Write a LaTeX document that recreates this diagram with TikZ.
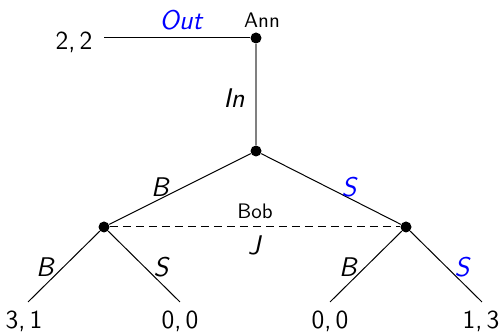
\documentclass[tikz,border=0pt]{standalone}
\usepackage{xcolor}
\begin{document}
\begin{tikzpicture}[x=0.5pt,y=-0.5pt,font=\sffamily,
  dot/.style={circle,fill=black,inner sep=0pt,minimum size=5.5pt},
  edge/.style={draw=black,line width=0.5pt},
  lab/.style={font=\sffamily\itshape\fontsize{13.5}{15}\selectfont},
  blab/.style={font=\sffamily\itshape\fontsize{13.5}{15}\selectfont,text=blue},
  pay/.style={font=\sffamily\fontsize{13}{15}\selectfont},
  pname/.style={font=\sffamily\fontsize{10.5}{12}\selectfont}]
\useasboundingbox (0,0) rectangle (504,335);
\node[dot] (ann) at (256,38) {};
\node[dot] (mid) at (256,151) {};
\node[dot] (bl) at (104,227) {};
\node[dot] (br) at (406,227) {};
\coordinate (out) at (104,38);
\coordinate (ll) at (28,302);
\coordinate (lr) at (180,302);
\coordinate (rl) at (330,302);
\coordinate (rr) at (482,302);
\draw[edge] (ann) -- (out);
\draw[draw=gray,line width=1pt] (ann) -- (mid);
\draw[edge] (mid) -- (bl);
\draw[edge] (mid) -- (br);
\draw[edge,dashed,dash pattern=on 4pt off 2.5pt] (bl) -- (br);
\draw[edge] (bl) -- (ll);
\draw[edge] (bl) -- (lr);
\draw[edge] (br) -- (rl);
\draw[edge] (br) -- (rr);
\node[pay] (p0) at (74,42) {2,\,2};
\node[blab] (lout) at (181,20) {Out};
\node[pname] (lann) at (262,20) {Ann};
\node[lab] (lin) at (234,98) {In};
\node[lab] (lb1) at (160,187) {B};
\node[blab] (ls1) at (349,187) {S};
\node[pname] (lbob) at (255,211) {Bob};
\node[lab] (lj) at (254,245) {J};
\node[lab] (lb2) at (45,267) {B};
\node[lab] (ls2) at (161,267) {S};
\node[lab] (lb3) at (348,267) {B};
\node[blab] (ls3) at (462,267) {S};
\node[pay] (p1) at (24,321) {3,\,1};
\node[pay] (p2) at (180,321) {0,\,0};
\node[pay] (p3) at (330,321) {0,\,0};
\node[pay] (p4) at (481,321) {1,\,3};
\end{tikzpicture}
\end{document}
